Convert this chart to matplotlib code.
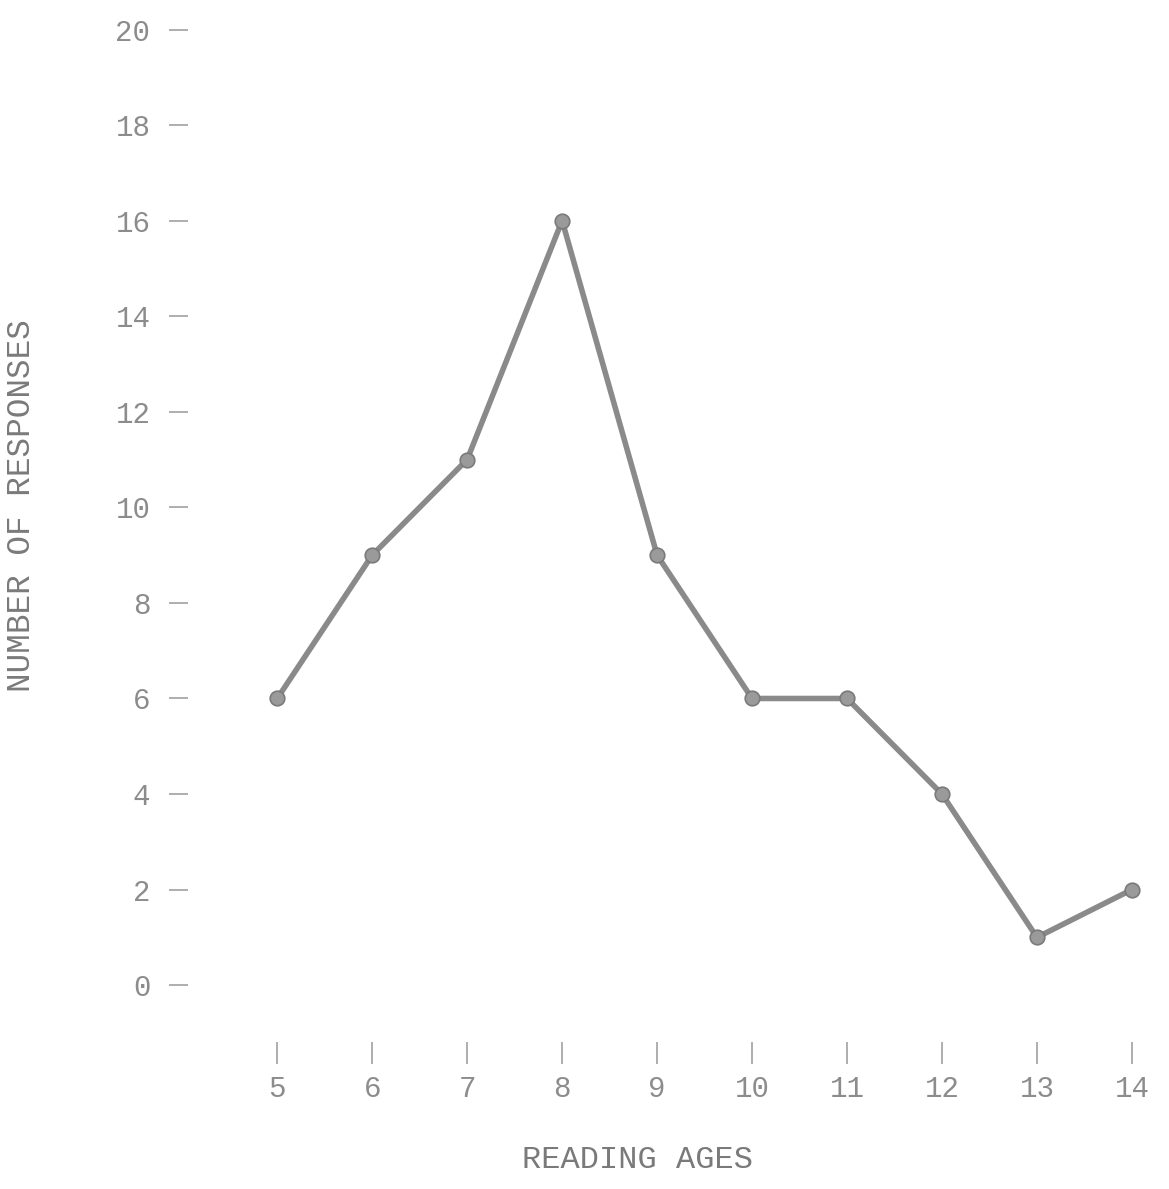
import matplotlib
matplotlib.use('Agg')
from matplotlib import pyplot as plt

reading_ages = [5, 6, 7, 8, 9, 10, 11, 12, 13, 14]
responses = [6, 9, 11, 16, 9, 6, 6, 4, 1, 2]
y_ticks = [0, 2, 4, 6, 8, 10, 12, 14, 16, 18, 20]

plt.rcParams['font.family'] = ['Liberation Mono', 'DejaVu Sans Mono']

fig = plt.figure(figsize=(11.69, 11.89), dpi=100)
ax = fig.add_axes([0.1608, 0.1236, 0.8229, 0.8596])

ax.plot(reading_ages, responses, color='#8a8a8a', linewidth=4,
        marker='o', markersize=10.5, markerfacecolor='#9a9a9a',
        markeredgecolor='#7a7a7a', markeredgewidth=1.2)

ax.set_xlim(4.06, 14.19)
ax.set_ylim(-1.19, 20.2)

for s in ax.spines.values():
    s.set_visible(False)

ax.set_yticks(y_ticks)
ax.set_yticklabels([str(v) for v in y_ticks])
ax.set_xticks(reading_ages)
ax.set_xticklabels([str(v) for v in reading_ages])

ax.tick_params(axis='y', direction='out', length=14, width=1.3,
               color='#a8a8a8', pad=13, labelsize=21, labelcolor='#8c8c8c')
ax.tick_params(axis='x', direction='out', length=16, width=1.3,
               color='#a8a8a8', pad=8, labelsize=21, labelcolor='#8c8c8c')

fig.text(0.018, 0.575, 'NUMBER OF RESPONSES', rotation=90, ha='center',
         va='center', fontsize=23.5, color='#7a7a7a')
fig.text(0.545, 0.024, 'READING AGES', ha='center', va='center',
         fontsize=23, color='#7a7a7a')

fig.savefig('out.png', dpi=100)
